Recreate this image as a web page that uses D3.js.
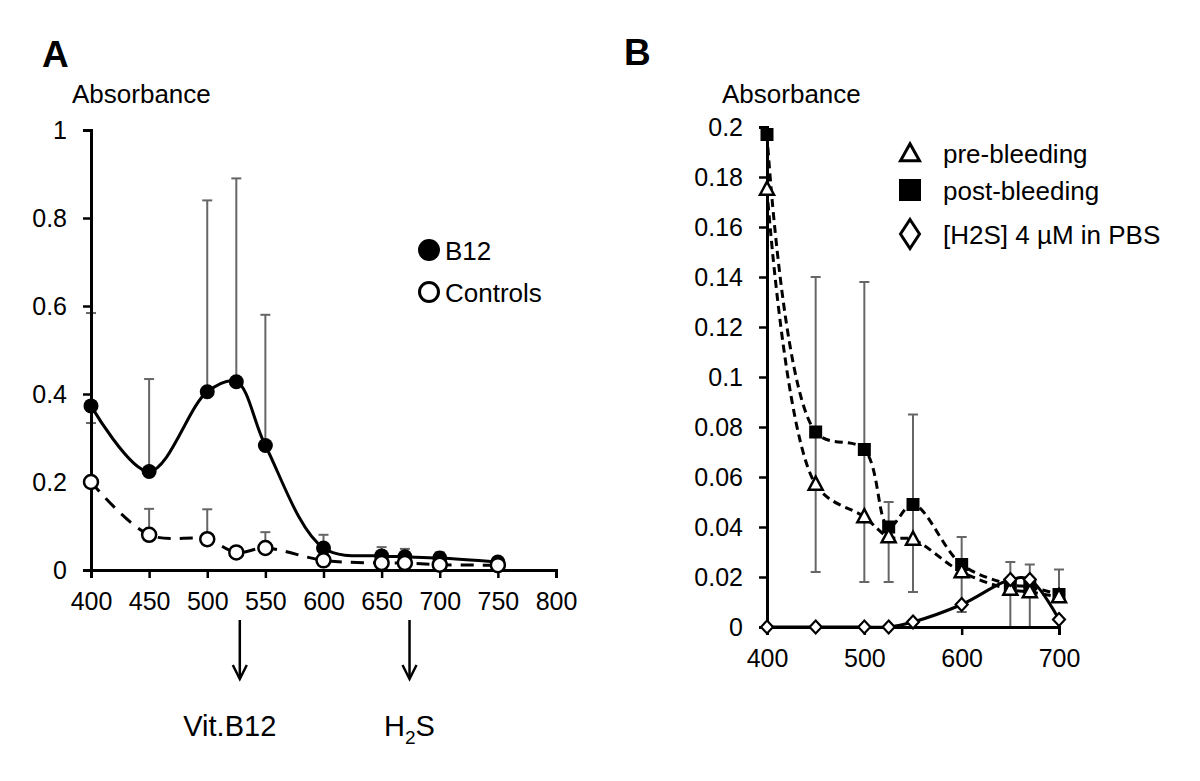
<!DOCTYPE html>
<html><head><meta charset="utf-8">
<script src="https://cdn.jsdelivr.net/npm/d3@7"></script>
<style>body{margin:0;background:#fff}svg text{font-family:"Liberation Sans",Arial,sans-serif;fill:#000}</style>
</head><body><svg id="c" width="1200" height="781"></svg>
<script>
// ---------- Panel A data ----------
const wavelengthsA = [400, 450, 500, 525, 550, 600, 650, 670, 700, 750];
const b12 = [0.373, 0.224, 0.405, 0.428, 0.283, 0.05, 0.032, 0.03, 0.027, 0.018];
const b12Upper = [0.584, 0.434, 0.84, 0.89, 0.58, 0.08, 0.052, 0.048, 0.04, null];
const controls = [0.2, 0.08, 0.07, 0.04, 0.05, 0.022, 0.016, 0.016, 0.012, 0.011];
const controlsUpper = [0.334, 0.139, 0.138, null, 0.086, null, null, null, null, null];
const xTicksA = [400, 450, 500, 550, 600, 650, 700, 750, 800];
const yTicksA = [0, 0.2, 0.4, 0.6, 0.8, 1];
const legendA = ["B12", "Controls"];
const arrowsA = [528, 674];
// ---------- Panel B data ----------
const wavelengthsB = [400, 450, 500, 525, 550, 600, 650, 670, 700];
const preBleeding = [0.175, 0.057, 0.044, 0.036, 0.035, 0.022, 0.015, 0.014, 0.012];
const postBleeding = [0.197, 0.078, 0.071, 0.04, 0.049, 0.025, 0.017, 0.016, 0.013];
const h2s = [0, 0, 0, 0, 0.002, 0.009, 0.019, 0.019, 0.003];
const errHighB = [null, 0.14, 0.138, 0.05, 0.085, 0.036, 0.026, 0.025, 0.023];
const errLowB = [null, 0.022, 0.018, 0.018, 0.014, 0.006, 0, 0, null];
const xTicksB = [400, 500, 600, 700];
const yTicksB = [0, 0.02, 0.04, 0.06, 0.08, 0.1, 0.12, 0.14, 0.16, 0.18, 0.2];
const legendB = ["pre-bleeding", "post-bleeding", "[H2S] 4 µM in PBS"];

const svg = d3.select("#c");
const FS = 25;
const FS2 = 26;
const ERR = "#666";

function axes(g, x, y, xt, yt, yfmt) {
  const ax = g.append("g").attr("transform", `translate(0,${y.range()[0]})`)
    .call(d3.axisBottom(x).tickValues(xt).tickSize(8).tickPadding(14).tickFormat(d3.format("d")));
  const ay = g.append("g").attr("transform", `translate(${x.range()[0]},0)`)
    .call(d3.axisLeft(y).tickValues(yt).tickSize(8).tickPadding(16).tickFormat(yfmt));
  [ax, ay].forEach(a => {
    a.select(".domain").attr("stroke", "#000").attr("stroke-width", 3);
    a.selectAll(".tick line").attr("stroke", "#000").attr("stroke-width", 2.5);
    a.selectAll("text").attr("font-size", FS).attr("fill", "#000");
  });
  ax.selectAll("text").attr("dy", "0.72em");
}

// ================= Panel A =================
const xA = d3.scaleLinear().domain([400, 800]).range([91, 556]);
const yA = d3.scaleLinear().domain([0, 1]).range([570, 130]);
const gA = svg.append("g");
gA.append("text").attr("x", 42).attr("y", 67).attr("font-size", 37).attr("font-weight", "bold").text("A");
gA.append("text").attr("x", 72).attr("y", 103).attr("font-size", FS2).text("Absorbance");

function errUp(g, xs, vals, ups, x, y) {
  xs.forEach((w, i) => {
    if (ups[i] == null) return;
    const px = x(w);
    g.append("line").attr("x1", px).attr("x2", px).attr("y1", y(vals[i])).attr("y2", y(ups[i]))
      .attr("stroke", ERR).attr("stroke-width", 2);
    g.append("line").attr("x1", px - 5).attr("x2", px + 5).attr("y1", y(ups[i])).attr("y2", y(ups[i]))
      .attr("stroke", ERR).attr("stroke-width", 2);
  });
}
errUp(gA, wavelengthsA, b12, b12Upper, xA, yA);
errUp(gA, wavelengthsA, controls, controlsUpper, xA, yA);

axes(gA, xA, yA, xTicksA, yTicksA, d => d === 0 || d === 1 ? d3.format("d")(d) : d3.format(".1f")(d));

const lineA = (vals) => d3.line().x((d, i) => xA(wavelengthsA[i])).y(d => yA(d)).curve(d3.curveCatmullRom.alpha(0.5))(vals);
gA.append("path").attr("d", lineA(controls)).attr("fill", "none").attr("stroke", "#000").attr("stroke-width", 3).attr("stroke-dasharray", "13,9");
gA.append("path").attr("d", lineA(b12)).attr("fill", "none").attr("stroke", "#000").attr("stroke-width", 3);
gA.selectAll(".mb").data(b12).join("circle").attr("cx", (d, i) => xA(wavelengthsA[i])).attr("cy", d => yA(d))
  .attr("r", 7.5).attr("fill", "#000");
gA.selectAll(".mc").data(controls).join("circle").attr("cx", (d, i) => xA(wavelengthsA[i])).attr("cy", d => yA(d))
  .attr("r", 7).attr("fill", "#fff").attr("stroke", "#000").attr("stroke-width", 2.5);

// legend A
legendA.forEach((t, i) => {
  const cy = 250 + i * 42;
  gA.append("circle").attr("cx", 429).attr("cy", cy).attr("r", i === 0 ? 11 : 9.5)
    .attr("fill", i === 0 ? "#000" : "#fff").attr("stroke", "#000").attr("stroke-width", i === 0 ? 0 : 3);
  gA.append("text").attr("x", 445).attr("y", cy + 10).attr("font-size", FS2).text(t);
});

// arrows
arrowsA.forEach(w => {
  const px = xA(w);
  gA.append("line").attr("x1", px).attr("x2", px).attr("y1", 620).attr("y2", 678).attr("stroke", "#000").attr("stroke-width", 2.5);
  gA.append("path").attr("d", `M${px - 7},665 L${px},679 L${px + 7},665`).attr("fill", "none").attr("stroke", "#000").attr("stroke-width", 2.5);
});
gA.append("text").attr("x", xA(arrowsA[0]) - 10).attr("y", 736).attr("font-size", 29).attr("text-anchor", "middle").text("Vit.B12");
const h = gA.append("text").attr("x", xA(arrowsA[1])).attr("y", 736).attr("font-size", 29).attr("text-anchor", "middle");
h.append("tspan").text("H");
h.append("tspan").attr("font-size", 19).attr("dy", 8).text("2");
h.append("tspan").attr("dy", -8).text("S");

// ================= Panel B =================
const xB = d3.scaleLinear().domain([400, 700]).range([767, 1059]);
const yB = d3.scaleLinear().domain([0, 0.2]).range([627, 127]);
const gB = svg.append("g");
gB.append("text").attr("x", 624).attr("y", 65).attr("font-size", 37).attr("font-weight", "bold").text("B");
gB.append("text").attr("x", 722).attr("y", 103).attr("font-size", FS2).text("Absorbance");

wavelengthsB.forEach((w, i) => {
  const px = xB(w);
  const hi = errHighB[i], lo = errLowB[i];
  if (hi == null && lo == null) return;
  const top = hi != null ? hi : postBleeding[i];
  const bot = lo != null ? lo : preBleeding[i];
  gB.append("line").attr("x1", px).attr("x2", px).attr("y1", yB(bot)).attr("y2", yB(top)).attr("stroke", ERR).attr("stroke-width", 2);
  [hi, lo].forEach(v => {
    if (v == null) return;
    gB.append("line").attr("x1", px - 5).attr("x2", px + 5).attr("y1", yB(v)).attr("y2", yB(v)).attr("stroke", ERR).attr("stroke-width", 2);
  });
});

axes(gB, xB, yB, xTicksB, yTicksB, d => d === 0 ? "0" : d3.format("~g")(+d.toFixed(2)));

const lineB = (vals) => d3.line().x((d, i) => xB(wavelengthsB[i])).y(d => yB(d)).curve(d3.curveCatmullRom.alpha(0.5))(vals);
gB.append("path").attr("d", lineB(h2s)).attr("fill", "none").attr("stroke", "#000").attr("stroke-width", 3);
gB.append("path").attr("d", lineB(preBleeding)).attr("fill", "none").attr("stroke", "#000").attr("stroke-width", 3).attr("stroke-dasharray", "8,5");
gB.append("path").attr("d", lineB(postBleeding)).attr("fill", "none").attr("stroke", "#000").attr("stroke-width", 3).attr("stroke-dasharray", "8,5");

const tri = (w, hgt) => `M0,${-hgt * 0.6} L${w / 2},${hgt * 0.4} L${-w / 2},${hgt * 0.4} Z`;
const dia = (w, hgt) => `M0,${-hgt / 2} L${w / 2},0 L0,${hgt / 2} L${-w / 2},0 Z`;

gB.selectAll(".sq").data(postBleeding).join("rect")
  .attr("x", (d, i) => xB(wavelengthsB[i]) - 6.5).attr("y", d => yB(d) - 6.5).attr("width", 13).attr("height", 13).attr("fill", "#000");
gB.selectAll(".tr").data(preBleeding).join("path")
  .attr("transform", (d, i) => `translate(${xB(wavelengthsB[i])},${yB(d)})`).attr("d", tri(14, 13))
  .attr("fill", "#fff").attr("stroke", "#000").attr("stroke-width", 2.5).attr("stroke-linejoin", "miter");
gB.selectAll(".di").data(h2s).join("path")
  .attr("transform", (d, i) => `translate(${xB(wavelengthsB[i])},${yB(d)})`).attr("d", dia(12, 13))
  .attr("fill", "#fff").attr("stroke", "#000").attr("stroke-width", 2.2);

// legend B
const legY = [153, 190, 234];
gB.append("path").attr("transform", `translate(910,${legY[0] + 1})`).attr("d", tri(19, 17)).attr("fill", "#fff").attr("stroke", "#000").attr("stroke-width", 3);
gB.append("rect").attr("x", 899).attr("y", legY[1] - 11).attr("width", 22).attr("height", 22).attr("fill", "#000");
gB.append("path").attr("transform", `translate(910,${legY[2]})`).attr("d", dia(19, 29)).attr("fill", "#fff").attr("stroke", "#000").attr("stroke-width", 3);
legendB.forEach((t, i) => {
  gB.append("text").attr("x", 943).attr("y", legY[i] + 10).attr("font-size", FS2).text(t);
});
</script></body></html>
